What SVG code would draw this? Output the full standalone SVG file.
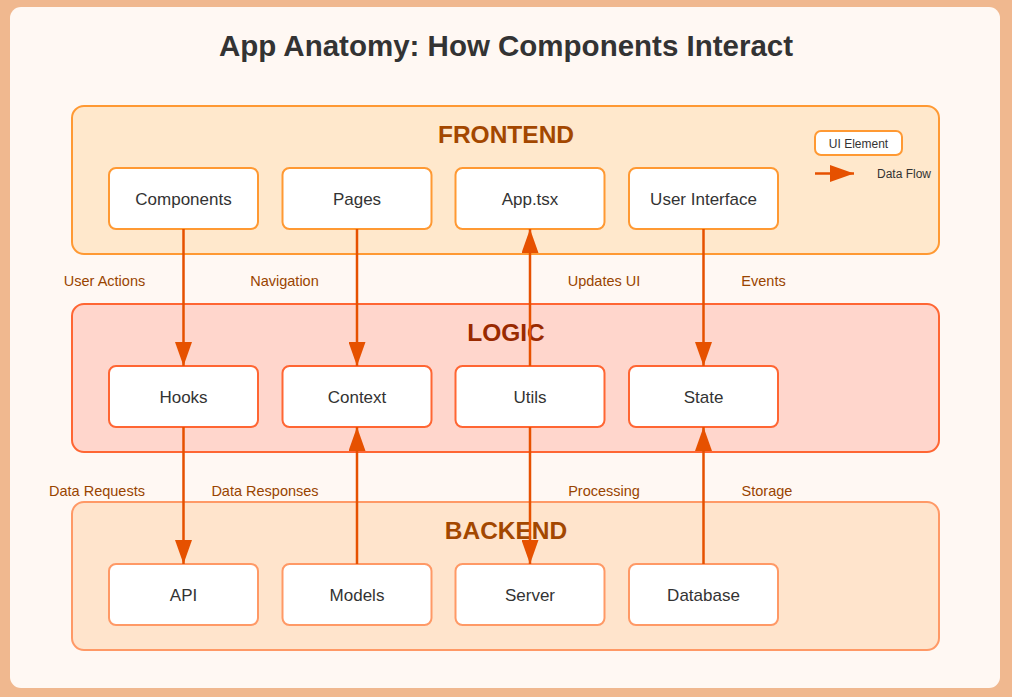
<svg xmlns="http://www.w3.org/2000/svg" width="1012" height="697" viewBox="0 0 1012 697">
<defs>
<marker id="ah" markerUnits="userSpaceOnUse" markerWidth="24" markerHeight="17" refX="24" refY="8.5" orient="auto">
<path d="M0,0 L24,8.5 L0,17 z" fill="#e65100"/>
</marker>
<style>
.sans{font-family:"Liberation Sans",Arial,Helvetica,sans-serif}
.node rect{fill:#ffffff;stroke-width:2}
.fe rect{stroke:#ff9933}
.lo rect{stroke:#ff6633}
.be rect{stroke:#ff9966}
.ntext{font-size:17px;fill:#333333;text-anchor:middle}
.sect{font-size:24.5px;font-weight:bold;text-anchor:middle}
.clabel{font-size:14.5px;fill:#994400;text-anchor:middle}
.conn line{stroke:#e65100;stroke-width:2.5;marker-end:url(#ah)}
</style>
</defs>
<rect x="0" y="0" width="1012" height="697" fill="#f0b88f"/>
<rect x="10" y="7" width="990" height="681" rx="11" fill="#fff8f3"/>
<text class="sans" x="506" y="56" font-size="29.5" font-weight="bold" fill="#333333" text-anchor="middle">App Anatomy: How Components Interact</text>

<g id="frontend-layer">
<rect x="72" y="106" width="867" height="148" rx="12" fill="#ffe8cc" stroke="#ff9933" stroke-width="2"/>
<text class="sans sect" x="506" y="143" fill="#a34700">FRONTEND</text>
</g>
<g id="logic-layer">
<rect x="72" y="304" width="867" height="148" rx="12" fill="#ffd6cc" stroke="#ff6633" stroke-width="2"/>
<text class="sans sect" x="506" y="341" fill="#992a00">LOGIC</text>
</g>
<g id="backend-layer">
<rect x="72" y="502" width="867" height="148" rx="12" fill="#ffe4cc" stroke="#ff9966" stroke-width="2"/>
<text class="sans sect" x="506" y="539" fill="#a34700">BACKEND</text>
</g>

<g id="legend">
<rect x="815" y="131" width="87" height="24" rx="6" fill="#ffffff" stroke="#ff9933" stroke-width="2"/>
<text class="sans" x="858.5" y="147.5" font-size="12" fill="#333333" text-anchor="middle">UI Element</text>
<line x1="815" y1="173.5" x2="854" y2="173.5" stroke="#e65100" stroke-width="2.5" marker-end="url(#ah)"/>
<text class="sans" x="877" y="178" font-size="12" fill="#333333">Data Flow</text>
</g>

<g id="node-components" class="node fe"><rect x="109" y="168" width="149" height="61" rx="7"/><text class="sans ntext" x="183.5" y="204.5">Components</text></g>
<g id="node-pages" class="node fe"><rect x="282.5" y="168" width="149" height="61" rx="7"/><text class="sans ntext" x="357" y="204.5">Pages</text></g>
<g id="node-app" class="node fe"><rect x="455.5" y="168" width="149" height="61" rx="7"/><text class="sans ntext" x="530" y="204.5">App.tsx</text></g>
<g id="node-ui" class="node fe"><rect x="629" y="168" width="149" height="61" rx="7"/><text class="sans ntext" x="703.5" y="204.5">User Interface</text></g>

<g id="node-hooks" class="node lo"><rect x="109" y="366" width="149" height="61" rx="7"/><text class="sans ntext" x="183.5" y="402.5">Hooks</text></g>
<g id="node-context" class="node lo"><rect x="282.5" y="366" width="149" height="61" rx="7"/><text class="sans ntext" x="357" y="402.5">Context</text></g>
<g id="node-utils" class="node lo"><rect x="455.5" y="366" width="149" height="61" rx="7"/><text class="sans ntext" x="530" y="402.5">Utils</text></g>
<g id="node-state" class="node lo"><rect x="629" y="366" width="149" height="61" rx="7"/><text class="sans ntext" x="703.5" y="402.5">State</text></g>

<g id="node-api" class="node be"><rect x="109" y="564" width="149" height="61" rx="7"/><text class="sans ntext" x="183.5" y="600.5">API</text></g>
<g id="node-models" class="node be"><rect x="282.5" y="564" width="149" height="61" rx="7"/><text class="sans ntext" x="357" y="600.5">Models</text></g>
<g id="node-server" class="node be"><rect x="455.5" y="564" width="149" height="61" rx="7"/><text class="sans ntext" x="530" y="600.5">Server</text></g>
<g id="node-database" class="node be"><rect x="629" y="564" width="149" height="61" rx="7"/><text class="sans ntext" x="703.5" y="600.5">Database</text></g>

<g id="connectors" class="conn">
<line x1="183.5" y1="229" x2="183.5" y2="366"/>
<line x1="357" y1="229" x2="357" y2="366"/>
<line x1="530" y1="366" x2="530" y2="229"/>
<line x1="703.5" y1="229" x2="703.5" y2="366"/>
<line x1="183.5" y1="427" x2="183.5" y2="564"/>
<line x1="357" y1="564" x2="357" y2="427"/>
<line x1="530" y1="427" x2="530" y2="564"/>
<line x1="703.5" y1="564" x2="703.5" y2="427"/>
</g>
<g id="connector-labels">
<text class="sans clabel" x="104.5" y="286">User Actions</text>
<text class="sans clabel" x="284.5" y="286">Navigation</text>
<text class="sans clabel" x="604" y="286">Updates UI</text>
<text class="sans clabel" x="763.5" y="286">Events</text>
<text class="sans clabel" x="97" y="496">Data Requests</text>
<text class="sans clabel" x="265" y="496">Data Responses</text>
<text class="sans clabel" x="604" y="496">Processing</text>
<text class="sans clabel" x="767" y="496">Storage</text>
</g>
</svg>
